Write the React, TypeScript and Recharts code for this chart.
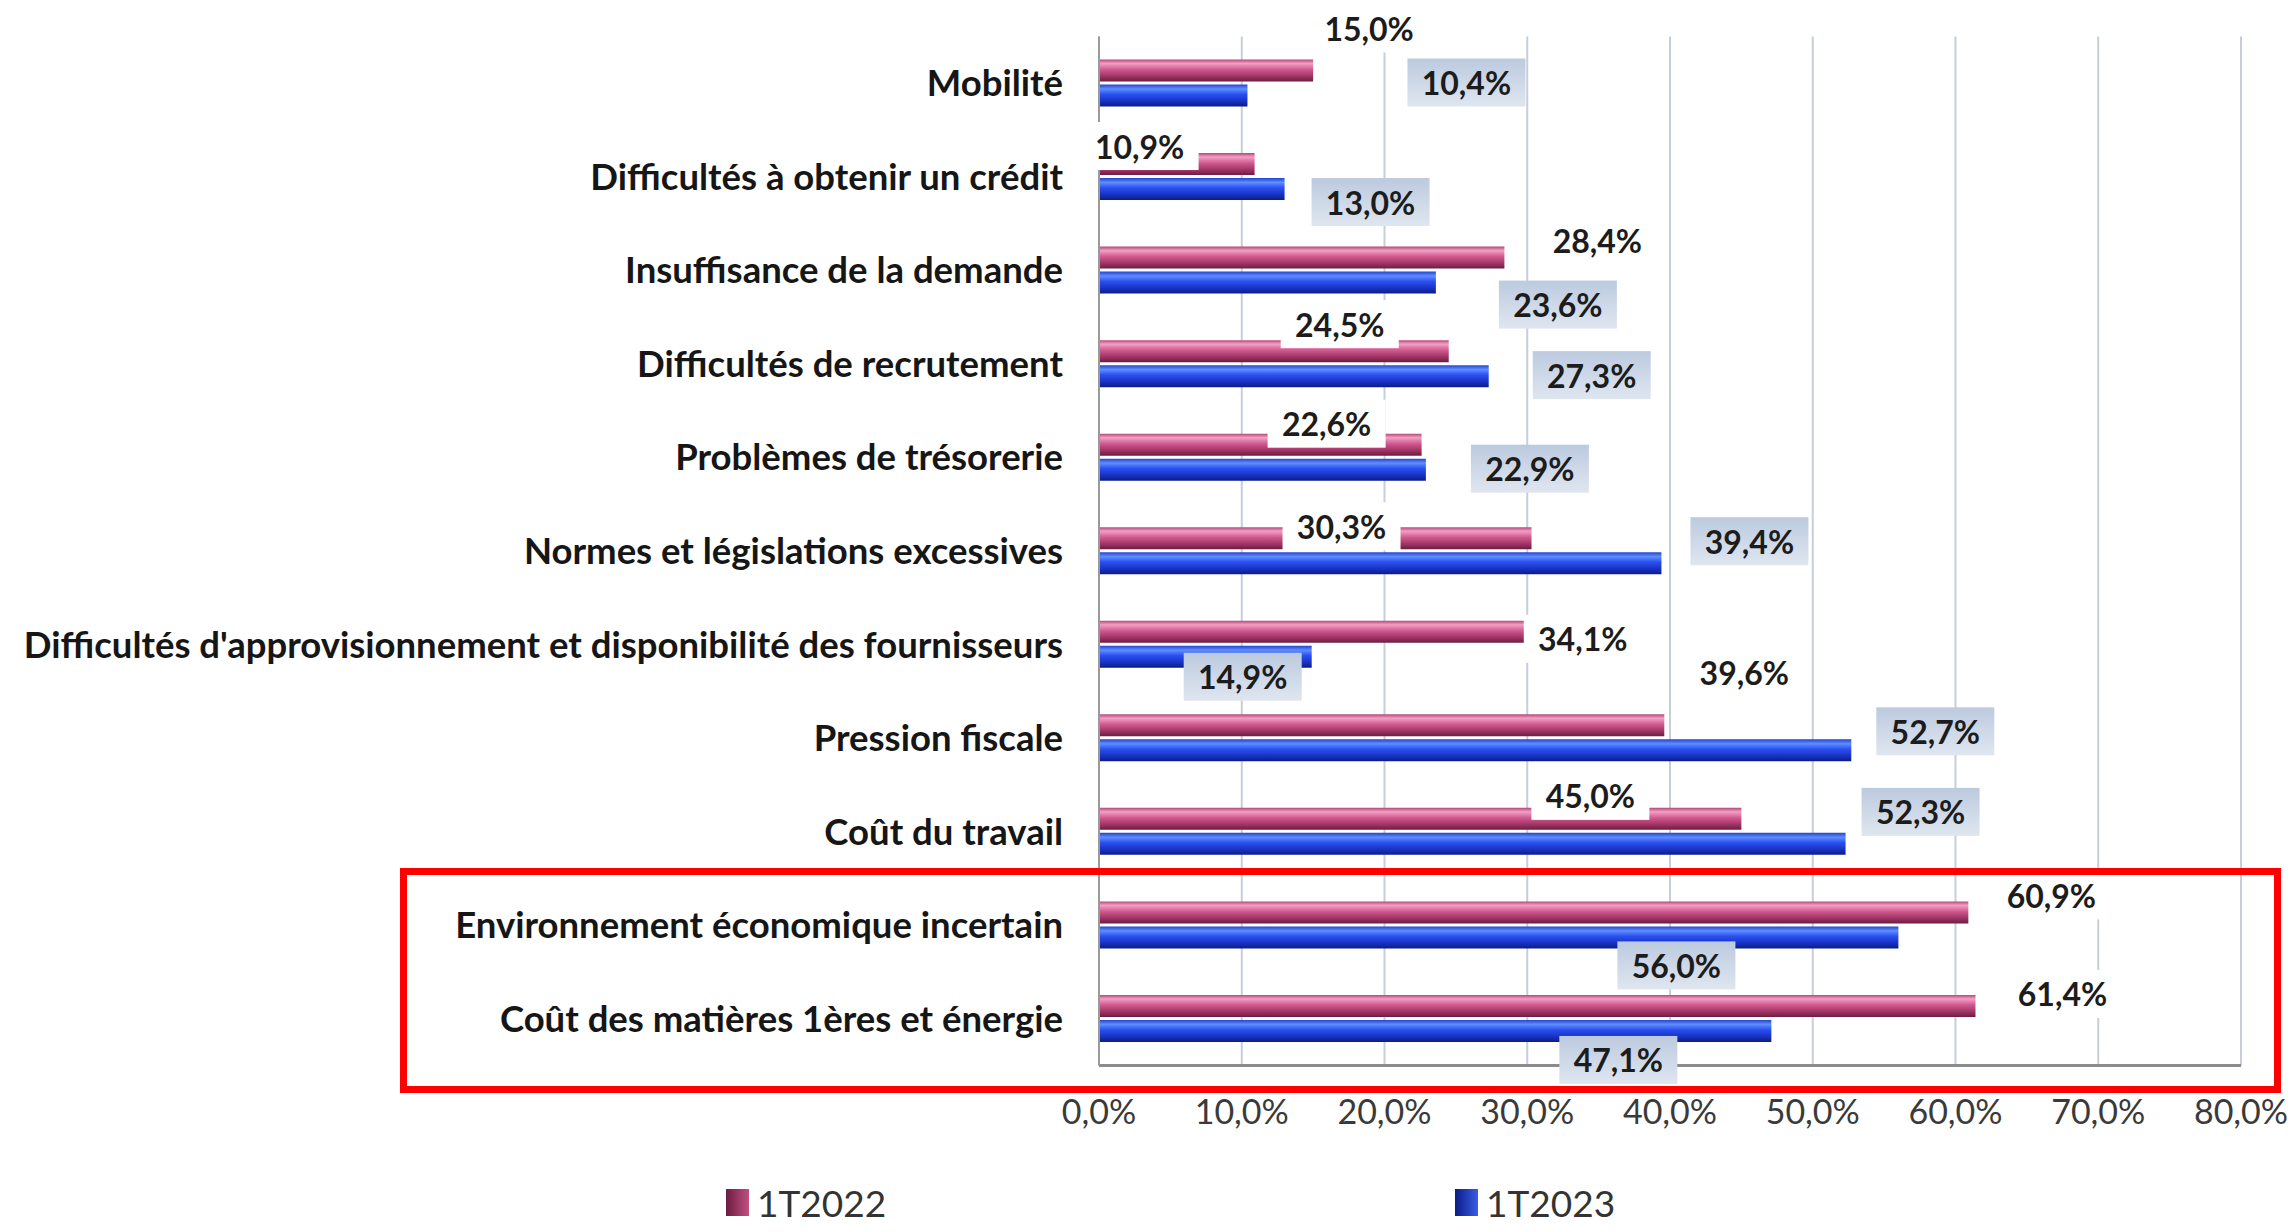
import React from "react";
import { BarChart, Bar, XAxis, YAxis, CartesianGrid } from "recharts";

const categories = [
  "Mobilité",
  "Difficultés à obtenir un crédit",
  "Insuffisance de la demande",
  "Difficultés de recrutement",
  "Problèmes de trésorerie",
  "Normes et législations excessives",
  "Difficultés d'approvisionnement et disponibilité des fournisseurs",
  "Pression fiscale",
  "Coût du travail",
  "Environnement économique incertain",
  "Coût des matières 1ères et énergie",
];
const t2022 = [15.0, 10.9, 28.4, 24.5, 22.6, 30.3, 34.1, 39.6, 45.0, 60.9, 61.4];
const t2023 = [10.4, 13.0, 23.6, 27.3, 22.9, 39.4, 14.9, 52.7, 52.3, 56.0, 47.1];
const seriesNames = ["1T2022", "1T2023"];
const xTicks = [0, 10, 20, 30, 40, 50, 60, 70, 80];

// hand placed data labels in the source: [dx from bar end, dy from bar centre]
const shift2022: [number, number][] = [
  [56, -42], [-115, -18], [93, -17], [-109, -27], [-95, -21], [-190, -12],
  [-3, 7], [80, -53], [-151, -23], [83, -17], [87, -12],
];
const shift2023: [number, number][] = [
  [219, -13], [86, 13], [122, 22], [103, -1], [104, -1], [88, -22],
  [-69, 20], [84, -19], [75, -32], [-222, 28], [-153, 29],
];

const data = categories.map((name, i) => ({
  name,
  [seriesNames[0]]: t2022[i],
  [seriesNames[1]]: t2023[i],
}));

const W = 2292;
const H = 1232;
const PLOT_LEFT = 1099;
const PLOT_RIGHT = 2241;
const PLOT_TOP = 36.5;
const PLOT_BOTTOM = 1065.5;
const XAXIS_H = 80;
const BAND = (PLOT_BOTTOM - PLOT_TOP) / categories.length;
const FONT = "Lato, 'Open Sans', sans-serif";

const pct = (v: number) => `${v.toFixed(1).replace(".", ",")}%`;

function makeLabel(shifts: [number, number][], boxFill: string) {
  return (props: any) => {
    const { x, y, width, height, index, value } = props;
    const [dx, dy] = shifts[index] || [0, 0];
    const cx = Number(x) + Number(width) + dx;
    const cy = Number(y) + Number(height) / 2 + dy;
    return (
      <g>
        <rect x={cx - 59} y={cy - 24} width={118} height={48} fill={boxFill} />
        <text
          x={cx}
          y={cy}
          textAnchor="middle"
          dominantBaseline="central"
          fontFamily={FONT}
          fontWeight={700}
          fontSize={32}
          fill="#1c1c1c"
        >
          {pct(Number(value))}
        </text>
      </g>
    );
  };
}

export default function App() {
  return (
    <div
      style={{
        position: "absolute",
        left: 0,
        top: 0,
        width: W,
        height: H,
        background: "#fff",
        overflow: "hidden",
        fontFamily: FONT,
      }}
    >
      <BarChart
        width={W}
        height={H}
        data={data}
        layout="vertical"
        margin={{ top: PLOT_TOP, right: W - PLOT_RIGHT, bottom: H - PLOT_BOTTOM - XAXIS_H, left: 0 }}
        barSize={22}
        barGap={3}
      >
        <defs>
          <linearGradient id="gPink" x1="0" y1="0" x2="0" y2="1">
            <stop offset="0%" stopColor="#b7477a" />
            <stop offset="18%" stopColor="#f2a0c4" />
            <stop offset="45%" stopColor="#d25a90" />
            <stop offset="75%" stopColor="#a23566" />
            <stop offset="100%" stopColor="#6c1c42" />
          </linearGradient>
          <linearGradient id="gBlue" x1="0" y1="0" x2="0" y2="1">
            <stop offset="0%" stopColor="#2444d0" />
            <stop offset="20%" stopColor="#5f8eff" />
            <stop offset="45%" stopColor="#2a4ff0" />
            <stop offset="75%" stopColor="#1833c4" />
            <stop offset="100%" stopColor="#0b1c85" />
          </linearGradient>
          <linearGradient id="gBox" x1="0" y1="0" x2="0" y2="1">
            <stop offset="0%" stopColor="#bccadf" />
            <stop offset="100%" stopColor="#dfe6f0" />
          </linearGradient>
        </defs>
        <CartesianGrid horizontal={false} stroke="#c6cedb" strokeWidth={2} />
        <XAxis
          type="number"
          domain={[0, 80]}
          ticks={xTicks}
          tickFormatter={pct}
          height={XAXIS_H}
          axisLine={{ stroke: "#8c8c8c", strokeWidth: 3 }}
          tickLine={false}
          tickSize={0}
          tickMargin={34}
          tick={{ fill: "#3a3a3a", fontSize: 34, fontFamily: FONT }}
        />
        <YAxis
          type="category"
          dataKey="name"
          width={PLOT_LEFT}
          interval={0}
          axisLine={{ stroke: "#9a9a9a", strokeWidth: 2 }}
          tickLine={false}
          tickSize={0}
          tickMargin={36}
          tick={{ fill: "#161616", fontSize: 36.5, fontWeight: 700, fontFamily: FONT }}
        />
        <Bar
          dataKey={seriesNames[0]}
          fill="url(#gPink)"
          isAnimationActive={false}
          label={makeLabel(shift2022, "#ffffff")}
        />
        <Bar
          dataKey={seriesNames[1]}
          fill="url(#gBlue)"
          isAnimationActive={false}
          label={makeLabel(shift2023, "url(#gBox)")}
        />
      </BarChart>

      {/* highlight box round the last two categories */}
      <div
        style={{
          position: "absolute",
          left: 400,
          top: PLOT_TOP + 9 * BAND - 10,
          width: 1881,
          height: PLOT_BOTTOM + 27.5 - (PLOT_TOP + 9 * BAND - 10),
          border: "7px solid #ff0000",
          boxSizing: "border-box",
        }}
      />

      {/* legend */}
      {[
        { name: seriesNames[0], left: 726, grad: "linear-gradient(90deg,#6c1c42,#c04f80)" },
        { name: seriesNames[1], left: 1455, grad: "linear-gradient(90deg,#0b1c85,#3a5ce8)" },
      ].map((s) => (
        <div
          key={s.name}
          style={{
            position: "absolute",
            left: s.left,
            top: 1184,
            display: "flex",
            alignItems: "center",
            gap: 8,
          }}
        >
          <span style={{ display: "inline-block", width: 23, height: 27, background: s.grad }} />
          <span style={{ fontSize: 37, color: "#333", lineHeight: "37px" }}>{s.name}</span>
        </div>
      ))}
    </div>
  );
}
